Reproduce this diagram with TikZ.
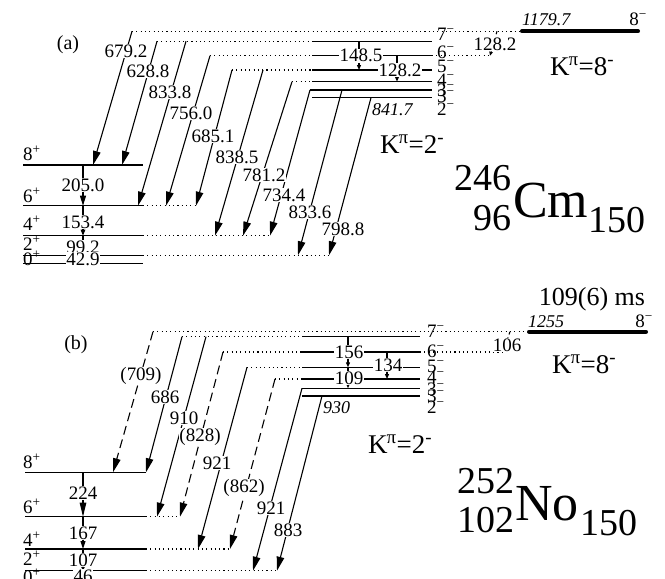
\documentclass[tikz,border=0pt]{standalone}
\usepackage{fontspec}
\setmainfont{Liberation Serif}
\usetikzlibrary{arrows.meta}
\newcommand\myfs{\fontsize{19}{19}\selectfont}
\begin{document}
\begin{tikzpicture}[x=1pt,y=-1pt,
 lvl/.style={line width=1.1pt},
 dotlvl/.style={line width=1.1pt, dash pattern=on 1.1pt off 3.2pt},
 tr/.style={line width=1.1pt, -{Triangle[length=14pt,width=7.5pt]}},
 trd/.style={tr, dash pattern=on 9pt off 5pt},
 smalltr/.style={line width=1.1pt, -{Triangle[length=5pt,width=4pt]}},
 lbl/.style={fill=white, inner sep=0.6pt, font=\myfs},
 txt/.style={inner sep=0pt, font=\myfs, anchor=base west},
 isoline/.style={line width=4pt, line cap=round},
 kp/.style={inner sep=0pt, font=\fontsize{27}{27}\selectfont, anchor=base west},
 big/.style={inner sep=0pt, font=\fontsize{52}{52}\selectfont},
 mid/.style={inner sep=0pt, font=\fontsize{38}{38}\selectfont},
]
\useasboundingbox (0,0) rectangle (665,579);

%================ panel (a) ================
\node[inner sep=0pt, font=\fontsize{20}{20}\selectfont] (pa) at (68,45) {(a)};
% ground band
\draw[lvl] (23,165) -- (143,165);
\draw[lvl] (23,205.7) -- (143,205.7); \draw[dotlvl] (143,205.7) -- (196,205.7);
\draw[lvl] (23,235.7) -- (143,235.7); \draw[dotlvl] (143,235.7) -- (270,235.7);
\draw[lvl] (23,255.3) -- (143,255.3); \draw[dotlvl] (143,255.3) -- (329,255.3);
\draw[lvl] (23,263.3) -- (143,263.3);
% K=2- band and isomer
\draw[dotlvl] (132,31.3) -- (520,31.3);
\draw[isoline] (522,31.3) -- (638,31.3);
\draw[dotlvl] (157,41.3) -- (312,41.3); \draw[lvl] (312,41.3) -- (432,41.3);
\draw[dotlvl] (210,55.7) -- (312,55.7); \draw[lvl] (312,55.7) -- (432,55.7); \draw[dotlvl] (432,55.7) -- (490,55.7);
\draw[dotlvl] (232,70) -- (312,70); \draw[lvl] (312,70) -- (432,70);
\draw[dotlvl] (292,81.7) -- (312,81.7); \draw[lvl] (312,81.7) -- (432,81.7);
\draw[lvl] (310,90) -- (432,90);
\draw[lvl] (312,97.7) -- (432,97.7);

% transition end points
\coordinate (a1t) at (132,31.3);  \coordinate (a1b) at (93,165);
\coordinate (a2t) at (157,41.3);  \coordinate (a2b) at (122,165);
\coordinate (a3t) at (186,41.3);  \coordinate (a3b) at (138,205.7);
\coordinate (a4t) at (210,55.7);  \coordinate (a4b) at (166,205.7);
\coordinate (a5t) at (232,70);    \coordinate (a5b) at (196,205.7);
\coordinate (a6t) at (263,70);    \coordinate (a6b) at (215,235.7);
\coordinate (a7t) at (292,81.7);  \coordinate (a7b) at (243,235.7);
\coordinate (a8t) at (310,90);    \coordinate (a8b) at (270,235.7);
\coordinate (a9t) at (342,90);    \coordinate (a9b) at (298,255.3);
\coordinate (a10t) at (371,97.7); \coordinate (a10b) at (329,255.3);
\foreach \i in {1,...,10} {\draw[tr] (a\i t) -- (a\i b);}
% ground transitions
\coordinate (ag8) at (83,165); \coordinate (ag6) at (83,205.7);
\coordinate (ag4) at (83,235.7); \coordinate (ag2) at (83,255.3); \coordinate (ag0) at (83,263.3);
\draw[line width=1.1pt, -{Triangle[length=10pt,width=6pt]}] (ag8) -- (ag6);
\draw[line width=1.1pt, -{Triangle[length=6pt,width=4.5pt]}] (ag6) -- (ag4);
\draw[line width=1.1pt, -{Triangle[length=3pt,width=3pt]}] (ag4) -- (ag2);
\draw[line width=1.1pt] (ag2) -- (ag0);
% intraband
\coordinate (ai1t) at (359,41.3); \coordinate (ai1b) at (359,70);
\coordinate (ai2t) at (397,55.7); \coordinate (ai2b) at (397,81.7);
\draw[smalltr] (ai1t) -- (ai1b);
\draw[smalltr] (ai2t) -- (ai2b);
\coordinate (aiso t) at (497,31.3); \coordinate (aiso b) at (490,55.7);
\draw[line width=1.1pt, dash pattern=on 3pt off 3pt, -{Triangle[length=4pt,width=3.5pt]}] (aiso t) -- (aiso b);

% labels on transitions
\node[lbl] (la1) at (126,51) {679.2};
\node[lbl] (la2) at (148,71) {628.8};
\node[lbl] (la3) at (170,92) {833.8};
\node[lbl] (la4) at (191,113) {756.0};
\node[lbl] (la5) at (213,136) {685.1};
\node[lbl] (la6) at (237,157) {838.5};
\node[lbl] (la7) at (264,175) {781.2};
\node[lbl] (la8) at (284,195) {734.4};
\node[lbl] (la9) at (310,212) {833.6};
\node[lbl] (la10) at (343,229) {798.8};
\node[lbl] (lag1) at (83,185) {205.0};
\node[lbl] (lag2) at (83,222) {153.4};
\node[lbl] (lag3) at (83,247) {99.2};
\node[lbl] (lag4) at (83,259) {42.9};
\node[lbl] (lai1) at (361,55.7) {148.5};
\node[lbl] (lai2) at (400,70) {128.2};
\node[lbl] (laiso) at (495,44) {128.2};
% level labels
\node[txt] (a8p) at (23,160) {8\textsuperscript{+}};
\node[txt] (a6p) at (23,202) {6\textsuperscript{+}};
\node[txt] (a4p) at (23,230) {4\textsuperscript{+}};
\node[txt] (a2p) at (23,250) {2\textsuperscript{+}};
\node[txt] (a0p) at (23,265) {0\textsuperscript{+}};
\node[txt] (a7m) at (437,40) {7\textsuperscript{−}};
\node[txt] (a6m) at (437,58) {6\textsuperscript{−}};
\node[txt] (a5m) at (437,72) {5\textsuperscript{−}};
\node[txt] (a4m) at (437,86) {4\textsuperscript{−}};
\node[txt] (a3m) at (437,96) {3\textsuperscript{−}};
\node[txt] (a3mb) at (437,102) {3\textsuperscript{−}};
\node[txt] (a2m) at (437,115) {2\textsuperscript{−}};
\node[txt, font=\fontsize{18}{18}\selectfont\itshape] (a2e) at (372,115) {841.7};
\node[txt, font=\fontsize{18}{18}\selectfont\itshape] (aiso e) at (522,25) {1179.7};
\node[txt, anchor=base east] (aiso s) at (647,25) {8\textsuperscript{−}};
\node[kp] (ak8) at (550,75) {K\kern-1pt\textsuperscript{π}=8\textsuperscript{-}};
\node[kp] (ak2) at (380,153) {K\kern-1pt\textsuperscript{π}=2\textsuperscript{-}};
% nucleus
\node[big, anchor=base west] (cm) at (513,217) {Cm};
\node[mid, anchor=base east] (cmA) at (512,190) {246};
\node[mid, anchor=base east] (cmZ) at (512,230) {96};
\node[mid, anchor=base west] (cmN) at (588,232) {150};

%================ panel (b) ================
\node[inner sep=0pt, font=\fontsize{20}{20}\selectfont] (pb) at (76,345) {(b)};
\draw[lvl] (25,472.3) -- (146,472.3);
\draw[lvl] (25,516.7) -- (146,516.7); \draw[dotlvl] (146,516.7) -- (180,516.7);
\draw[lvl] (25,549) -- (146,549); \draw[dotlvl] (146,549) -- (230,549);
\draw[lvl] (25,570.7) -- (146,570.7); \draw[dotlvl] (146,570.7) -- (277,570.7);
\draw[lvl] (25,580.5) -- (146,580.5);
% band
\draw[dotlvl] (153,331.7) -- (527,331.7);
\draw[isoline] (529,331.7) -- (646,331.7);
\draw[dotlvl] (182,336.7) -- (302,336.7); \draw[lvl] (302,336.7) -- (420,336.7);
\draw[dotlvl] (223,352) -- (302,352); \draw[lvl] (302,352) -- (420,352); \draw[dotlvl] (420,352) -- (503,352);
\draw[dotlvl] (247,367.3) -- (302,367.3); \draw[lvl] (302,367.3) -- (420,367.3);
\draw[dotlvl] (275,379) -- (302,379); \draw[lvl] (302,379) -- (420,379);
\draw[lvl] (302,388.3) -- (420,388.3);
\draw[lvl] (302,396) -- (420,396);

\coordinate (b1t) at (153,331.7); \coordinate (b1b) at (113,472.3);
\coordinate (b2t) at (182,336.7); \coordinate (b2b) at (146,472.3);
\coordinate (b3t) at (206,336.7); \coordinate (b3b) at (157,516.7);
\coordinate (b4t) at (223,352);   \coordinate (b4b) at (180,516.7);
\coordinate (b5t) at (247,367.3); \coordinate (b5b) at (198,549);
\coordinate (b6t) at (275,379);   \coordinate (b6b) at (230,549);
\coordinate (b7t) at (302,388.3); \coordinate (b7b) at (253,570.7);
\coordinate (b8t) at (322,396);   \coordinate (b8b) at (277,570.7);
\draw[trd] (b1t) -- (b1b);
\draw[tr] (b2t) -- (b2b);
\draw[tr] (b3t) -- (b3b);
\draw[trd] (b4t) -- (b4b);
\draw[tr] (b5t) -- (b5b);
\draw[trd] (b6t) -- (b6b);
\draw[tr] (b7t) -- (b7b);
\draw[tr] (b8t) -- (b8b);
\coordinate (bg8) at (83,472.3); \coordinate (bg6) at (83,516.7);
\coordinate (bg4) at (83,549); \coordinate (bg2) at (83,570.7); \coordinate (bg0) at (83,580.5);
\draw[line width=1.1pt, -{Triangle[length=14pt,width=6.5pt]}] (bg8) -- (bg6);
\draw[line width=1.1pt, -{Triangle[length=8pt,width=5pt]}] (bg6) -- (bg4);
\draw[line width=1.1pt, -{Triangle[length=4pt,width=3.5pt]}] (bg4) -- (bg2);
\draw[line width=1.1pt] (bg2) -- (bg0);
\coordinate (bi1t) at (348,336.7); \coordinate (bi1b) at (348,367.3);
\coordinate (bi2t) at (387,352);   \coordinate (bi2b) at (387,379);
\coordinate (bi3t) at (348,367.3); \coordinate (bi3b) at (348,388.3);
\draw[smalltr] (bi1t) -- (bi1b);
\draw[smalltr] (bi2t) -- (bi2b);
\draw[smalltr] (bi3t) -- (bi3b);
\coordinate (biso t) at (510,331.7); \coordinate (biso b) at (503,352);
\draw[line width=1.1pt, dash pattern=on 3pt off 3pt, -{Triangle[length=4pt,width=3.5pt]}] (biso t) -- (biso b);

\node[lbl] (lb1) at (141,376) {(709)};
\node[lbl] (lb2) at (165,397) {686};
\node[lbl] (lb3) at (184,418) {910};
\node[lbl] (lb4) at (200,437) {(828)};
\node[lbl] (lb5) at (217,463) {921};
\node[lbl] (lb6) at (244,488) {(862)};
\node[lbl] (lb7) at (271,508) {921};
\node[lbl] (lb8) at (288,530) {883};
\node[lbl] (lbg1) at (83,493) {224};
\node[lbl] (lbg2) at (83,533) {167};
\node[lbl] (lbg3) at (83,560) {107};
\node[lbl] (lbg4) at (83,576) {46};
\node[lbl] (lbi1) at (349,352) {156};
\node[lbl] (lbi2) at (388,365) {134};
\node[lbl] (lbi3) at (349,378) {109};
\node[lbl] (lbiso) at (507,345) {106};
\node[txt] (b8p) at (23,468) {8\textsuperscript{+}};
\node[txt] (b6p) at (23,513) {6\textsuperscript{+}};
\node[txt] (b4p) at (23,546) {4\textsuperscript{+}};
\node[txt] (b2p) at (23,565) {2\textsuperscript{+}};
\node[txt] (b0p) at (23,583) {0\textsuperscript{+}};
\node[txt] (b7m) at (427,337) {7\textsuperscript{−}};
\node[txt] (b6m) at (427,357) {6\textsuperscript{−}};
\node[txt] (b5m) at (427,372) {5\textsuperscript{−}};
\node[txt] (b4m) at (427,383) {4\textsuperscript{−}};
\node[txt] (b3m) at (427,395) {3\textsuperscript{−}};
\node[txt] (b3mb) at (427,402) {3\textsuperscript{−}};
\node[txt] (b2m) at (427,413) {2\textsuperscript{−}};
\node[txt, font=\fontsize{18}{18}\selectfont\itshape] (b2e) at (323,413) {930};
\node[txt, font=\fontsize{18}{18}\selectfont\itshape] (biso e) at (528,327) {1255};
\node[txt, anchor=base east] (biso s) at (653,327) {8\textsuperscript{−}};
\node[inner sep=0pt, font=\fontsize{26}{26}\selectfont, anchor=base] (life) at (592,305) {109(6) ms};
\node[kp] (bk8) at (552,373) {K\kern-1pt\textsuperscript{π}=8\textsuperscript{-}};
\node[kp] (bk2) at (368,453) {K\kern-1pt\textsuperscript{π}=2\textsuperscript{-}};
\node[big, anchor=base west] (no) at (515,520) {No};
\node[mid, anchor=base east] (noA) at (515,493) {252};
\node[mid, anchor=base east] (noZ) at (515,532) {102};
\node[mid, anchor=base west] (noN) at (580,535) {150};
\end{tikzpicture}
\end{document}
